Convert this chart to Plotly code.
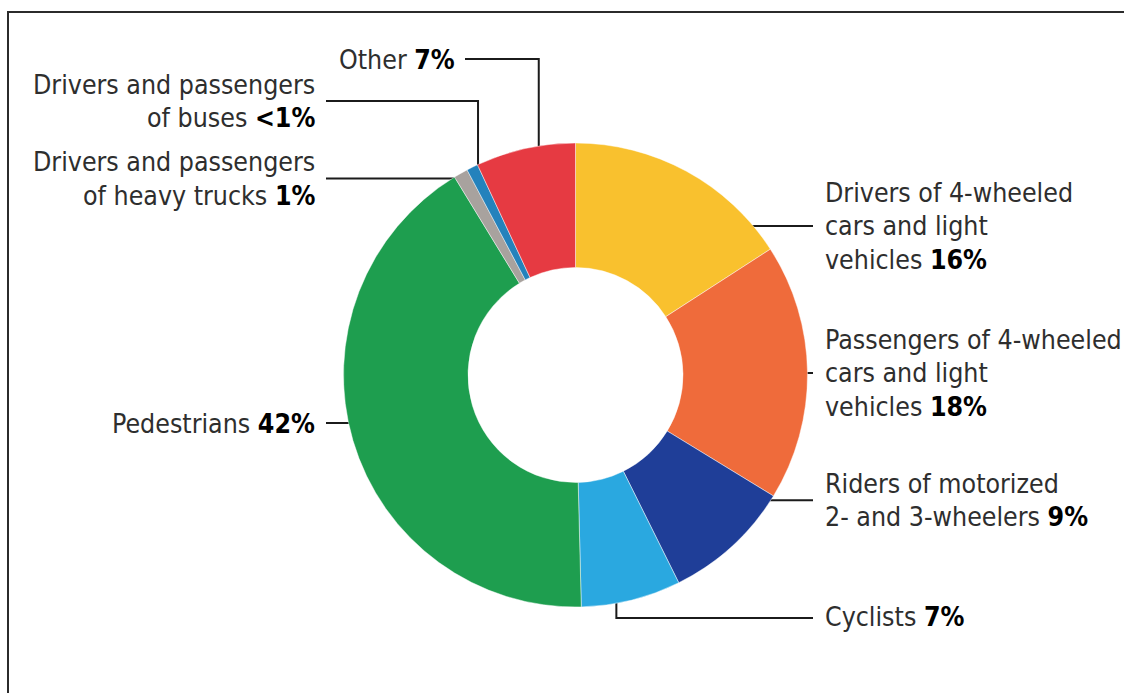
import math
import plotly.graph_objects as go

# Road traffic deaths by type of road user (share of total)
categories = [
    "Drivers of 4-wheeled cars and light vehicles",
    "Passengers of 4-wheeled cars and light vehicles",
    "Riders of motorized 2- and 3-wheelers",
    "Cyclists",
    "Pedestrians",
    "Drivers and passengers of heavy trucks",
    "Drivers and passengers of buses",
    "Other",
]
shares = [16, 18, 9, 7, 42, 1, 0.8, 7]
share_labels = ["16%", "18%", "9%", "7%", "42%", "1%", "<1%", "7%"]
label_lines = [
    ["Drivers of 4-wheeled", "cars and light", "vehicles"],
    ["Passengers of 4-wheeled", "cars and light", "vehicles"],
    ["Riders of motorized", "2- and 3-wheelers"],
    ["Cyclists"],
    ["Pedestrians"],
    ["Drivers and passengers", "of heavy trucks"],
    ["Drivers and passengers", "of buses"],
    ["Other"],
]
colors = ["#F9C12E", "#EF6B3B", "#1F3E98", "#2AA8E0",
          "#1E9E4F", "#A8A29E", "#2482BC", "#E63A42"]

W, H = 1124, 693
CX, CY = 575.5, 375.0       # donut centre (px)
R_OUT = 232.0
R_IN = 107.5
FONT = "DejaVu Sans Condensed, Liberation Sans Narrow, sans-serif"
FS = 26.5
PITCH = 33.5
INK = "#1b1b1b"

fig = go.Figure()
fig.add_trace(go.Pie(
    values=shares,
    labels=categories,
    sort=False,
    direction="clockwise",
    rotation=0,
    hole=R_IN / R_OUT,
    marker=dict(colors=colors, line=dict(color="rgba(255,255,255,0.45)", width=1)),
    textinfo="none",
    hoverinfo="label+percent",
    showlegend=False,
    domain=dict(x=[(CX - R_OUT) / W, (CX + R_OUT) / W],
                y=[(H - CY - R_OUT) / H, (H - CY + R_OUT) / H]),
))

# dot position for each slice: middle of the wedge angle
total = sum(shares)
dots = []
cum = 0.0
for i, v in enumerate(shares):
    mid = (cum + v / 2) / total * 2 * math.pi
    cum += v
    if v < 2:
        r = 226 if i == 5 else 219
    else:
        r = (R_OUT + R_IN) / 2
    dots.append((CX + r * math.sin(mid), CY - r * math.cos(mid)))

# leader routing: (path from dot, label x, label y, anchor)
RIGHT_END, RIGHT_TXT = 813, 823
LEFT_END, LEFT_TXT = 326, 317
routes = []
for i, (dx, dy) in enumerate(dots):
    if i in (0, 1, 2):
        path = [(dx, dy), (RIGHT_END, dy)]
        routes.append((path, RIGHT_TXT, dy, "left"))
    elif i == 3:
        path = [(dx, dy), (dx, 618), (RIGHT_END, 618)]
        routes.append((path, RIGHT_TXT, 616, "left"))
    elif i in (4, 5):
        path = [(dx, dy), (LEFT_END, dy)]
        routes.append((path, LEFT_TXT, dy, "right"))
    elif i == 6:
        path = [(dx, dy), (dx, 101), (LEFT_END, 101)]
        routes.append((path, LEFT_TXT, 101, "right"))
    else:
        path = [(dx, dy), (dx, 59), (465, 59)]
        routes.append((path, 457, 59, "right"))

lx, ly = [], []
for path, _, _, _ in routes:
    for (px, py) in path:
        lx.append(px)
        ly.append(py)
    lx.append(None)
    ly.append(None)

fig.add_trace(go.Scatter(x=lx, y=ly, mode="lines",
                         line=dict(color=INK, width=2),
                         hoverinfo="skip", showlegend=False))
fig.add_trace(go.Scatter(x=[d[0] for d in dots], y=[d[1] for d in dots],
                         mode="markers",
                         marker=dict(color="#000000", size=9),
                         hoverinfo="skip", showlegend=False))

annotations = []
for i, (path, tx, ty, anchor) in enumerate(routes):
    lines = list(label_lines[i])
    pct = share_labels[i].replace("<", "&lt;")
    lines[-1] = lines[-1] + " <b><span style='color:#000000'>" + pct + "</span></b>"
    n = len(lines)
    for k, line in enumerate(lines):
        y = ty + (k - (n - 1) / 2) * PITCH
        annotations.append(dict(
            x=tx, y=y, xref="x", yref="y", text=line, showarrow=False,
            xanchor=anchor, yanchor="middle", align=anchor,
            font=dict(family=FONT, size=FS, color="#2e2e2e"),
        ))

fig.update_layout(
    width=W, height=H, autosize=False,
    margin=dict(l=0, r=0, t=0, b=0, pad=0),
    paper_bgcolor="white", plot_bgcolor="rgba(0,0,0,0)",
    xaxis=dict(range=[0, W], visible=False, domain=[0, 1], fixedrange=True),
    yaxis=dict(range=[H, 0], visible=False, domain=[0, 1], fixedrange=True),
    annotations=annotations,
    shapes=[dict(type="rect", xref="x", yref="y", x0=8, y0=12, x1=W + 20, y1=H + 20,
                 line=dict(color="#2b2b2b", width=2), fillcolor="rgba(0,0,0,0)",
                 layer="below")],
)

fig.write_html("out.html")
